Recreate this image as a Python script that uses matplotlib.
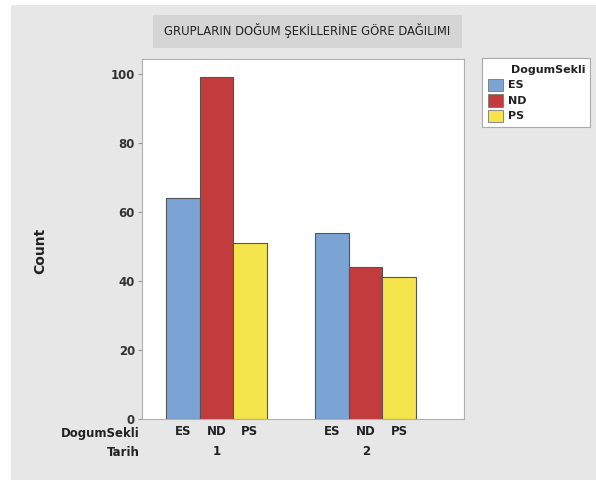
import matplotlib.pyplot as plt
from matplotlib.patches import Rectangle

# data
groups = ['1', '2']
methods = ['ES', 'ND', 'PS']
counts_1 = [64, 99, 51]
counts_2 = [54, 44, 41]
colors = ['#7ba3d4', '#c23b3d', '#f4e54c']

W, H = 596, 482
fig = plt.figure(figsize=(W / 100, H / 100), dpi=100)
fig.patch.set_facecolor('white')

def px(x0, y0, x1, y1):
    # pixel box -> figure fraction [left, bottom, width, height]
    return [x0 / W, 1 - y1 / H, (x1 - x0) / W, (y1 - y0) / H]

def add_box(x0, y0, x1, y1, **kw):
    l, b, w, h = px(x0, y0, x1, y1)
    fig.patches.append(Rectangle((l, b), w, h, transform=fig.transFigure, **kw))

# gray panel and title box
add_box(11, 5, 596, 480, facecolor='#e7e7e7', edgecolor='none', zorder=0)
add_box(153, 15, 462, 48, facecolor='#d5d5d5', edgecolor='none', zorder=1)
fig.text((153 + 462) / 2 / W, 1 - 31 / H, 'GRUPLARIN DOĞUM ŞEKİLLERİNE GÖRE DAĞILIMI',
         ha='center', va='center', fontsize=8.4, color='#222222')

ax = fig.add_axes(px(142, 59, 464, 419))
ax.set_zorder(3)
ax.set_facecolor('white')

bw = 1.0
offset = 4.46
pos_1 = [0, 1, 2]
pos_2 = [p + offset for p in pos_1]
for i, m in enumerate(methods):
    ax.bar(pos_1[i], counts_1[i], width=bw, color=colors[i],
           edgecolor='#555555', linewidth=0.8)
    ax.bar(pos_2[i], counts_2[i], width=bw, color=colors[i],
           edgecolor='#555555', linewidth=0.8)

ax.set_xlim(-0.5 - 24 / 33.5, pos_2[-1] + 0.5 + 48 / 33.5)
ax.set_ylim(0, 104.3)
ax.set_yticks([0, 20, 40, 60, 80, 100])
ax.tick_params(axis='y', length=3, color='#999999', labelsize=8.5,
               labelcolor='#333333', pad=2)
for t in ax.get_yticklabels():
    t.set_fontweight('bold')
ax.set_xticks(pos_1 + pos_2)
ax.set_xticklabels(methods + methods, fontsize=8.5, fontweight='bold', color='#222222')
ax.tick_params(axis='x', length=0, pad=4)
for s in ax.spines.values():
    s.set_color('#b0b0b0')
    s.set_linewidth(0.8)

ax.set_ylabel('Count', fontsize=10, fontweight='bold', color='#222222', labelpad=46)
ax.yaxis.label.set_y(0.467)

# row headers and group labels under the axis
fig.text(140 / W, 1 - 433 / H, 'DogumSekli', ha='right', va='center',
         fontsize=8.5, fontweight='bold', color='#222222')
fig.text(140 / W, 1 - 452 / H, 'Tarih', ha='right', va='center',
         fontsize=8.5, fontweight='bold', color='#222222')
for g, p in zip(groups, [pos_1[1], pos_2[1]]):
    ax.text(p, -0.09, g, transform=ax.get_xaxis_transform(), ha='center',
            va='center', fontsize=8.5, fontweight='bold', color='#222222')

# legend box
add_box(482, 58, 590, 127, facecolor='white', edgecolor='#aaaaaa',
        linewidth=0.8, zorder=2)
fig.text(585 / W, 1 - 70 / H, 'DogumSekli', ha='right', va='center',
         fontsize=8, fontweight='bold', color='#222222', zorder=4)
for i, m in enumerate(methods):
    yc = 85 + i * 15.5
    add_box(488, yc - 6, 503, yc + 6, facecolor=colors[i], edgecolor='#777777',
            linewidth=0.6, zorder=4)
    fig.text(508 / W, 1 - yc / H, m, ha='left', va='center',
             fontsize=8, fontweight='bold', color='#222222', zorder=4)

fig.savefig('out.png', dpi=100)
